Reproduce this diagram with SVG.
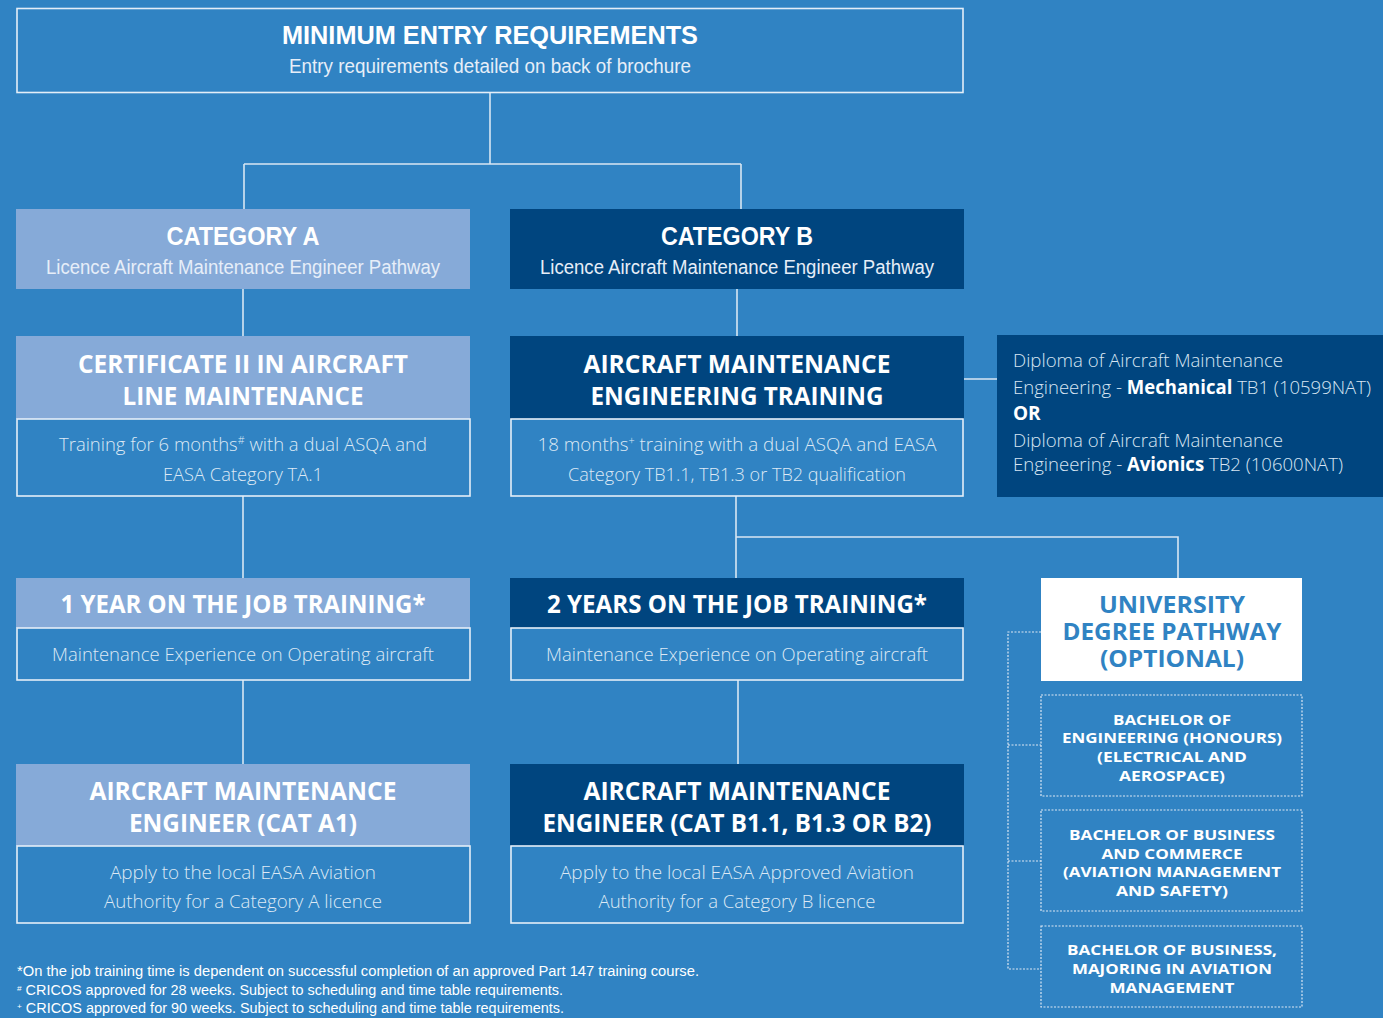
<svg xmlns="http://www.w3.org/2000/svg" width="1383" height="1018" viewBox="0 0 1383 1018">
<style>
.bg{fill:#3083c3}
.lt{fill:#86aad8}
.dk{fill:#00457f}
.ob{fill:none;stroke:#e4eef8;stroke-width:1.6}
.dot{fill:none;stroke:#dce8f4;stroke-width:1.2;stroke-dasharray:2 1.5}
.ln{fill:none;stroke:#d8e6f3;stroke-width:1.6}
.dl{fill:none;stroke:#dce8f4;stroke-width:1.2;stroke-dasharray:2 1.5}
.h{font-family:"Open Sans","Liberation Sans",sans-serif;font-weight:bold;fill:#ffffff;text-anchor:middle}
.hc{font-family:"Liberation Sans","Open Sans",sans-serif;font-weight:bold;fill:#ffffff;text-anchor:middle}
.s{font-family:"Open Sans","Liberation Sans",sans-serif;font-weight:300;fill:#dde9f5;text-anchor:middle}
.sc{font-family:"Liberation Sans","Open Sans",sans-serif;fill:#e6eef8;text-anchor:middle}
.d{font-family:"Open Sans","Liberation Sans",sans-serif;font-weight:300;fill:#d8e5f3}
.db{font-family:"Open Sans","Liberation Sans",sans-serif;font-weight:bold;fill:#ffffff}
.u{font-family:"Open Sans","Liberation Sans",sans-serif;font-weight:bold;fill:#3083c3;text-anchor:middle}
.f{font-family:"Liberation Sans","Open Sans",sans-serif;fill:#ffffff}
</style>
<rect class="bg" x="0" y="0" width="1383" height="1018"/>
<g id="connectors">
<path class="ln" d="M490 92V164M244 164H741M244 164V209M741 164V209"/>
<path class="ln" d="M243 289V336M737 289V336"/>
<path class="ln" d="M964 379H997"/>
<path class="ln" d="M243 496V578M736 496V578M736 537H1178V578"/>
<path class="ln" d="M243 680V764M738 680V764"/>
<path class="dl" d="M1041 632H1008V969H1041M1008 745H1041M1008 861H1041"/>
</g>
<g id="min-entry">
<rect class="ob" x="17" y="8.5" width="946" height="84"/>
<text class="hc" x="490" y="44" font-size="25" textLength="416" lengthAdjust="spacingAndGlyphs">MINIMUM ENTRY REQUIREMENTS</text>
<text class="sc" x="490" y="73" font-size="20" textLength="402" lengthAdjust="spacingAndGlyphs">Entry requirements detailed on back of brochure</text>
</g>
<g id="cat-a">
<rect class="lt" x="16" y="209" width="454" height="80"/>
<text class="hc" x="243" y="245" font-size="25" textLength="153" lengthAdjust="spacingAndGlyphs">CATEGORY A</text>
<text class="sc" x="243" y="274" font-size="20" textLength="394" lengthAdjust="spacingAndGlyphs">Licence Aircraft Maintenance Engineer Pathway</text>
</g>
<g id="cat-b">
<rect class="dk" x="510" y="209" width="454" height="80"/>
<text class="hc" x="737" y="245" font-size="25" textLength="152" lengthAdjust="spacingAndGlyphs">CATEGORY B</text>
<text class="sc" x="737" y="274" font-size="20" textLength="394" lengthAdjust="spacingAndGlyphs">Licence Aircraft Maintenance Engineer Pathway</text>
</g>
<g id="cert-ii">
<rect class="lt" x="16" y="336" width="454" height="83"/>
<text class="h" x="243" y="373" font-size="25" textLength="330" lengthAdjust="spacingAndGlyphs">CERTIFICATE II IN AIRCRAFT</text>
<text class="h" x="243" y="405" font-size="25" textLength="241" lengthAdjust="spacingAndGlyphs">LINE MAINTENANCE</text>
<rect class="ob" x="17" y="419" width="453" height="77"/>
<text class="s" x="243" y="451" font-size="19" textLength="368" lengthAdjust="spacingAndGlyphs">Training for 6 months<tspan font-size="11" baseline-shift="super">#</tspan> with a dual ASQA and</text>
<text class="s" x="243" y="481" font-size="19" textLength="160" lengthAdjust="spacingAndGlyphs">EASA Category TA.1</text>
</g>
<g id="amet">
<rect class="dk" x="510" y="336" width="454" height="83"/>
<text class="h" x="737" y="373" font-size="25" textLength="307" lengthAdjust="spacingAndGlyphs">AIRCRAFT MAINTENANCE</text>
<text class="h" x="737" y="405" font-size="25" textLength="293" lengthAdjust="spacingAndGlyphs">ENGINEERING TRAINING</text>
<rect class="ob" x="511" y="419" width="452" height="77"/>
<text class="s" x="737" y="451" font-size="19" textLength="399" lengthAdjust="spacingAndGlyphs">18 months<tspan font-size="11" baseline-shift="super">+</tspan> training with a dual ASQA and EASA</text>
<text class="s" x="737" y="481" font-size="19" textLength="338" lengthAdjust="spacingAndGlyphs">Category TB1.1, TB1.3 or TB2 qualification</text>
</g>
<g id="diploma">
<rect class="dk" x="997" y="335" width="386" height="162"/>
<text class="d" x="1013" y="367" font-size="19" textLength="270" lengthAdjust="spacingAndGlyphs">Diploma of Aircraft Maintenance</text>
<text class="d" x="1013" y="394" font-size="19" textLength="358" lengthAdjust="spacingAndGlyphs">Engineering - <tspan font-weight="bold" fill="#ffffff">Mechanical</tspan> TB1 (10599NAT)</text>
<text class="db" x="1013" y="420" font-size="19">OR</text>
<text class="d" x="1013" y="447" font-size="19" textLength="270" lengthAdjust="spacingAndGlyphs">Diploma of Aircraft Maintenance</text>
<text class="d" x="1013" y="471" font-size="19" textLength="330" lengthAdjust="spacingAndGlyphs">Engineering - <tspan font-weight="bold" fill="#ffffff">Avionics</tspan> TB2 (10600NAT)</text>
</g>
<g id="year-1">
<rect class="lt" x="16" y="578" width="454" height="50"/>
<text class="h" x="243" y="613" font-size="25" textLength="365" lengthAdjust="spacingAndGlyphs">1 YEAR ON THE JOB TRAINING*</text>
<rect class="ob" x="17" y="628" width="453" height="52"/>
<text class="s" x="243" y="661" font-size="19" textLength="382" lengthAdjust="spacingAndGlyphs">Maintenance Experience on Operating aircraft</text>
</g>
<g id="years-2">
<rect class="dk" x="510" y="578" width="454" height="50"/>
<text class="h" x="737" y="613" font-size="25" textLength="380" lengthAdjust="spacingAndGlyphs">2 YEARS ON THE JOB TRAINING*</text>
<rect class="ob" x="511" y="628" width="452" height="52"/>
<text class="s" x="737" y="661" font-size="19" textLength="382" lengthAdjust="spacingAndGlyphs">Maintenance Experience on Operating aircraft</text>
</g>
<g id="ame-a1">
<rect class="lt" x="16" y="764" width="454" height="82"/>
<text class="h" x="243" y="800" font-size="25" textLength="307" lengthAdjust="spacingAndGlyphs">AIRCRAFT MAINTENANCE</text>
<text class="h" x="243" y="832" font-size="25" textLength="228" lengthAdjust="spacingAndGlyphs">ENGINEER (CAT A1)</text>
<rect class="ob" x="17" y="846" width="453" height="77"/>
<text class="s" x="243" y="879" font-size="19" textLength="266" lengthAdjust="spacingAndGlyphs">Apply to the local EASA Aviation</text>
<text class="s" x="243" y="908" font-size="19" textLength="278" lengthAdjust="spacingAndGlyphs">Authority for a Category A licence</text>
</g>
<g id="ame-b">
<rect class="dk" x="510" y="764" width="454" height="82"/>
<text class="h" x="737" y="800" font-size="25" textLength="307" lengthAdjust="spacingAndGlyphs">AIRCRAFT MAINTENANCE</text>
<text class="h" x="737" y="832" font-size="25" textLength="389" lengthAdjust="spacingAndGlyphs">ENGINEER (CAT B1.1, B1.3 OR B2)</text>
<rect class="ob" x="511" y="846" width="452" height="77"/>
<text class="s" x="737" y="879" font-size="19" textLength="354" lengthAdjust="spacingAndGlyphs">Apply to the local EASA Approved Aviation</text>
<text class="s" x="737" y="908" font-size="19" textLength="277" lengthAdjust="spacingAndGlyphs">Authority for a Category B licence</text>
</g>
<g id="university">
<rect fill="#ffffff" x="1041" y="578" width="261" height="103"/>
<text class="u" x="1172" y="613" font-size="24" textLength="146" lengthAdjust="spacingAndGlyphs">UNIVERSITY</text>
<text class="u" x="1172" y="640" font-size="24" textLength="219" lengthAdjust="spacingAndGlyphs">DEGREE PATHWAY</text>
<text class="u" x="1172" y="667" font-size="24" textLength="144" lengthAdjust="spacingAndGlyphs">(OPTIONAL)</text>
</g>
<g id="bach-eng">
<rect class="dot" x="1041" y="695" width="261" height="101"/>
<text class="h" x="1172" y="725" font-size="15" textLength="118" lengthAdjust="spacingAndGlyphs">BACHELOR OF</text>
<text class="h" x="1172" y="743" font-size="15" textLength="220" lengthAdjust="spacingAndGlyphs">ENGINEERING (HONOURS)</text>
<text class="h" x="1172" y="762" font-size="15" textLength="150" lengthAdjust="spacingAndGlyphs">(ELECTRICAL AND</text>
<text class="h" x="1172" y="781" font-size="15" textLength="106" lengthAdjust="spacingAndGlyphs">AEROSPACE)</text>
</g>
<g id="bach-bus-comm">
<rect class="dot" x="1041" y="810" width="261" height="101"/>
<text class="h" x="1172" y="840" font-size="15" textLength="206" lengthAdjust="spacingAndGlyphs">BACHELOR OF BUSINESS</text>
<text class="h" x="1172" y="859" font-size="15" textLength="141" lengthAdjust="spacingAndGlyphs">AND COMMERCE</text>
<text class="h" x="1172" y="877" font-size="15" textLength="218" lengthAdjust="spacingAndGlyphs">(AVIATION MANAGEMENT</text>
<text class="h" x="1172" y="896" font-size="15" textLength="112" lengthAdjust="spacingAndGlyphs">AND SAFETY)</text>
</g>
<g id="bach-bus-avi">
<rect class="dot" x="1041" y="926" width="261" height="81"/>
<text class="h" x="1172" y="955" font-size="15" textLength="210" lengthAdjust="spacingAndGlyphs">BACHELOR OF BUSINESS,</text>
<text class="h" x="1172" y="974" font-size="15" textLength="200" lengthAdjust="spacingAndGlyphs">MAJORING IN AVIATION</text>
<text class="h" x="1172" y="993" font-size="15" textLength="125" lengthAdjust="spacingAndGlyphs">MANAGEMENT</text>
</g>
<g id="footnotes">
<text class="f" x="17" y="976" font-size="14" textLength="682" lengthAdjust="spacingAndGlyphs">*On the job training time is dependent on successful completion of an approved Part 147 training course.</text>
<text class="f" x="17" y="995" font-size="14" textLength="546" lengthAdjust="spacingAndGlyphs"><tspan font-size="8" baseline-shift="super">#</tspan> CRICOS approved for 28 weeks. Subject to scheduling and time table requirements.</text>
<text class="f" x="17" y="1013" font-size="14" textLength="547" lengthAdjust="spacingAndGlyphs"><tspan font-size="8" baseline-shift="super">+</tspan> CRICOS approved for 90 weeks. Subject to scheduling and time table requirements.</text>
</g>
</svg>
